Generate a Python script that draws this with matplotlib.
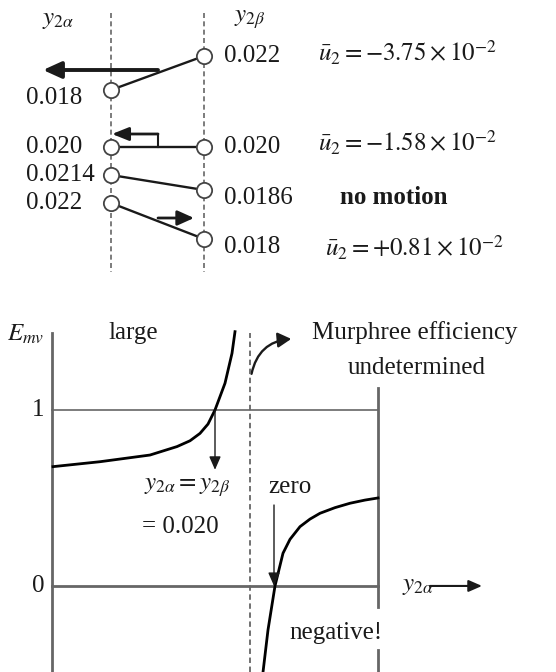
import matplotlib
matplotlib.use("Agg")
import matplotlib.pyplot as plt
from matplotlib.patches import FancyArrowPatch

plt.rcParams["font.family"] = ["Liberation Serif", "DejaVu Serif"]
plt.rcParams["mathtext.fontset"] = "stix"

INK = "#1a1a1a"
GRAY = "#666666"

# --- upper part: stage diagram (rows placed by picture position) ---
row_left_y = [90, 147, 175, 203]      # left column node rows
row_right_y = [56, 147, 190, 239]     # right column node rows
left_vals = ["0.018", "0.020", "0.0214", "0.022"]
right_vals = ["0.022", "0.020", "0.0186", "0.018"]
u2_texts = [r"$\bar{u}_2 = -3.75\times10^{-2}$",
            r"$\bar{u}_2 = -1.58\times10^{-2}$",
            "no motion",
            r"$\bar{u}_2 = +0.81\times10^{-2}$"]
u2_pos = [(318, 53), (318, 143), (340, 198), (325, 248)]

# --- lower part: Murphree efficiency vs y2alpha ---
x_upper = [53, 100, 150, 177, 190, 200, 208, 215, 225, 232, 235]
E_upper = [0.678, 0.706, 0.744, 0.792, 0.825, 0.867, 0.92, 1.0, 1.152, 1.322, 1.445]
x_lower = [263, 268, 275, 283, 290, 300, 310, 320, 335, 350, 365, 378]
E_lower = [-0.49, -0.25, 0.0, 0.186, 0.265, 0.337, 0.38, 0.413, 0.445, 0.47, 0.488, 0.5]

fig = plt.figure(figsize=(5.56, 6.72), dpi=100)

# top axes, pixel-like units
ax1 = fig.add_axes([0, 372 / 672, 1, 300 / 672])
ax1.set_xlim(0, 556)
ax1.set_ylim(300, 0)
ax1.axis("off")

xl, xr = 111, 204
for xc in (xl, xr):
    ax1.plot([xc, xc], [13, 272], ls=(0, (3, 2)), color=GRAY, lw=1.2)

for i in range(4):
    ax1.plot([xl, xr], [row_left_y[i], row_right_y[i]], color=INK, lw=1.7, zorder=2)
ax1.plot([xl] * 4, row_left_y, "o", ms=11, mfc="white", mec="#444444", mew=1.3, zorder=3)
ax1.plot([xr] * 4, row_right_y, "o", ms=11, mfc="white", mec="#444444", mew=1.3, zorder=3)

for i in range(4):
    ax1.text(82 if i != 2 else 95, row_left_y[i] + 8 if i == 0 else row_left_y[i],
             left_vals[i], ha="right", va="center", fontsize=18, color=INK)
    dy = [0, 0, 8, 8][i]
    ax1.text(224, row_right_y[i] + dy, right_vals[i], ha="left", va="center",
             fontsize=18, color=INK)
    ax1.text(u2_pos[i][0], u2_pos[i][1], u2_texts[i], ha="left", va="center",
             fontsize=18, color=INK, fontweight="bold" if i == 2 else "normal")

ax1.text(58, 20, r"$y_{2\alpha}$", ha="center", va="center", fontsize=18, color=INK)
ax1.text(250, 20, r"$y_{2\beta}$", ha="center", va="center", fontsize=18, color=INK)

# motion arrows
ax1.annotate("", xy=(43, 70), xytext=(158, 70),
             arrowprops=dict(arrowstyle="-|>,head_length=1.1,head_width=0.5",
                             color=INK, lw=2.8, shrinkA=0, shrinkB=0))
ax1.plot([158, 158], [147, 134], color=INK, lw=1.5)
ax1.annotate("", xy=(112, 134), xytext=(158, 134),
             arrowprops=dict(arrowstyle="-|>,head_length=1.0,head_width=0.4",
                             color=INK, lw=2, shrinkA=0, shrinkB=0))
ax1.annotate("", xy=(194, 218), xytext=(158, 218),
             arrowprops=dict(arrowstyle="-|>,head_length=1.0,head_width=0.45",
                             color=INK, lw=2, shrinkA=0, shrinkB=0))

# bottom axes: x in pixel-like units, y in E_mv
ax2 = fig.add_axes([0, 0, 1, 372 / 672])
ax2.set_xlim(0, 556)
ax2.set_ylim(-0.489, 1.625)
ax2.axis("off")

ax2.plot([52, 52], [-0.489, 1.438], color=GRAY, lw=2)
ax2.plot([378, 378], [-0.489, -0.364], color=GRAY, lw=2)
ax2.plot([378, 378], [-0.117, 1.125], color=GRAY, lw=2)
ax2.plot([52, 378], [1, 1], color=GRAY, lw=1.2)
ax2.plot([52, 378], [0, 0], color=GRAY, lw=2)
ax2.plot([250, 250], [-0.489, 1.438], ls=(0, (3, 2)), color=GRAY, lw=1.3)

ax2.plot(x_upper, E_upper, color="black", lw=2)
ax2.plot(x_lower, E_lower, color="black", lw=2)

ax2.text(38, 1, "1", ha="center", va="center", fontsize=18, color=INK)
ax2.text(38, 0, "0", ha="center", va="center", fontsize=18, color=INK)
ax2.text(26, 1.43, r"$E_{mv}$", ha="center", va="center", fontsize=18, color=INK)
ax2.text(133, 1.44, "large", ha="center", va="center", fontsize=18, color=INK)
ax2.text(415, 1.44, "Murphree efficiency", ha="center", va="center", fontsize=18, color=INK)
ax2.text(417, 1.24, "undetermined", ha="center", va="center", fontsize=18, color=INK)
ax2.add_patch(FancyArrowPatch((251, 1.19), (294, 1.405), connectionstyle="arc3,rad=-0.4",
                              arrowstyle="-|>,head_length=8,head_width=4.5",
                              color=INK, lw=1.7))

ax2.annotate("", xy=(215, 0.66), xytext=(215, 1.0),
             arrowprops=dict(arrowstyle="-|>,head_length=0.8,head_width=0.35",
                             color=INK, lw=1, shrinkA=0, shrinkB=0))
ax2.text(187, 0.56, r"$y_{2\alpha} = y_{2\beta}$", ha="center", va="center",
         fontsize=18, color=INK)
ax2.text(180, 0.335, "= 0.020", ha="center", va="center", fontsize=18, color=INK)

ax2.text(290, 0.56, "zero", ha="center", va="center", fontsize=18, color=INK)
ax2.annotate("", xy=(274, 0.0), xytext=(274, 0.46),
             arrowprops=dict(arrowstyle="-|>,head_length=0.8,head_width=0.35",
                             color=INK, lw=1, shrinkA=0, shrinkB=0))

ax2.text(418, 0.0, r"$y_{2\alpha}$", ha="center", va="center", fontsize=18, color=INK)
ax2.annotate("", xy=(482, 0.0), xytext=(430, 0.0),
             arrowprops=dict(arrowstyle="-|>,head_length=0.8,head_width=0.35",
                             color=INK, lw=1.5, shrinkA=0, shrinkB=0))
ax2.text(336, -0.27, "negative!", ha="center", va="center", fontsize=18, color=INK)

fig.savefig("out.png", dpi=100)
